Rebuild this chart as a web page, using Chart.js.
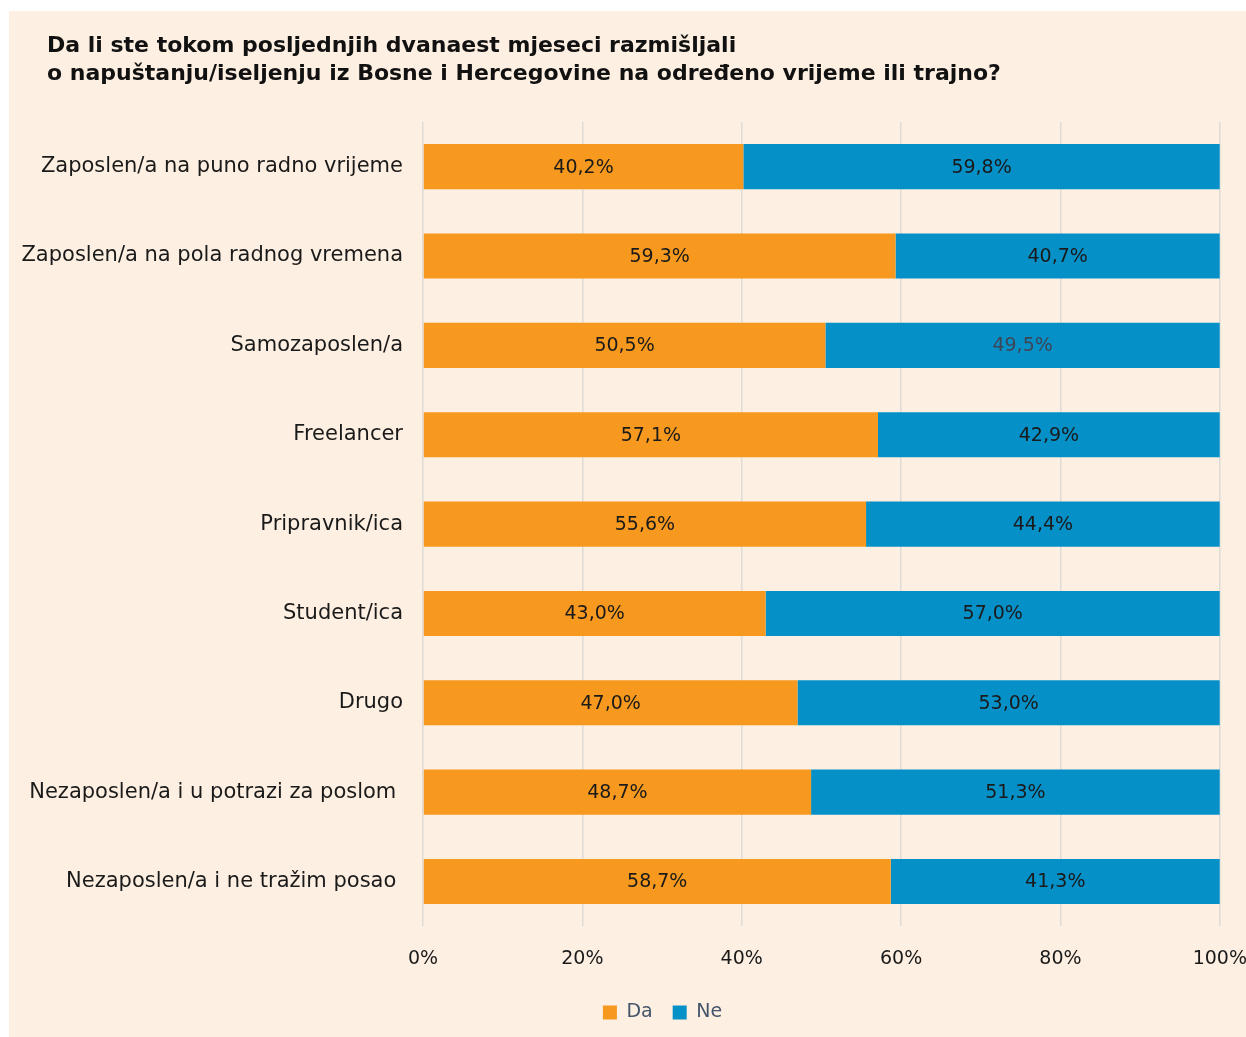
<!DOCTYPE html>
<html lang="bs">
<head>
    <meta charset="UTF-8">
    <title>Razmišljanje o napuštanju BiH</title>
    <style>
        body {
            margin: 0;
            background: #ffffff;
            overflow: hidden;
            font-family: "DejaVu Sans", Arial, sans-serif;
        }
        .panel {
            position: absolute;
            left: 9px;
            top: 11px;
            width: 1237px;
            height: 1026px;
            background: #fdefe1;
        }
        .title {
            position: absolute;
            left: 38px;
            top: 20px;
            font-size: 22px;
            font-weight: 700;
            line-height: 28px;
            color: #111;
        }
        .wrap {
            position: absolute;
            left: 0;
            top: 0;
            width: 1259px;
            height: 1026px;
        }
    </style>
</head>
<body>
    <div class="panel">
        <div class="wrap"><canvas id="chart"></canvas></div>
        <div class="title">Da li ste tokom posljednjih dvanaest mjeseci razmišljali<br>o napuštanju/iseljenju iz Bosne i Hercegovine na određeno vrijeme ili trajno?</div>
    </div>

    <script src="https://cdn.jsdelivr.net/npm/chart.js"></script>
    <script>
        // categories (trailing spaces kept as in the original)
        const categories = [
            'Zaposlen/a na puno radno vrijeme',
            'Zaposlen/a na pola radnog vremena',
            'Samozaposlen/a',
            'Freelancer',
            'Pripravnik/ica',
            'Student/ica',
            'Drugo',
            'Nezaposlen/a i u potrazi za poslom ',
            'Nezaposlen/a i ne tražim posao '
        ];
        const daValues = [40.2, 59.3, 50.5, 57.1, 55.6, 43.0, 47.0, 48.7, 58.7];
        const neValues = [59.8, 40.7, 49.5, 42.9, 44.4, 57.0, 53.0, 51.3, 41.3];
        const xTicks = [0, 20, 40, 60, 80, 100];

        const FONT = '"DejaVu Sans", Arial, sans-serif';

        // value labels inside the bars
        const barLabels = {
            id: 'barLabels',
            afterDatasetsDraw(chart) {
                const ctx = chart.ctx;
                ctx.save();
                ctx.font = '19px ' + FONT;
                ctx.textAlign = 'center';
                ctx.textBaseline = 'middle';
                chart.data.datasets.forEach((ds, i) => {
                    const meta = chart.getDatasetMeta(i);
                    meta.data.forEach((bar, j) => {
                        const v = ds.data[j];
                        ctx.fillStyle = (ds.labelColors && ds.labelColors[j]) || '#1a1a1a';
                        ctx.fillText(v.toFixed(1).replace('.', ',') + '%', (bar.x + bar.base) / 2, bar.y + 1);
                    });
                });
                ctx.restore();
            }
        };

        // legend in the original sits a bit right of the canvas centre
        const legendShift = {
            id: 'legendShift',
            afterLayout(chart) {
                chart.legend.left += 24;
                chart.legend.right += 24;
            }
        };

        new Chart(document.getElementById('chart'), {
            type: 'bar',
            data: {
                labels: categories,
                datasets: [{
                    label: 'Da',
                    data: daValues,
                    backgroundColor: '#f8991f',
                    barPercentage: 1,
                    categoryPercentage: 0.505
                }, {
                    label: 'Ne',
                    data: neValues,
                    backgroundColor: '#0690c8',
                    barPercentage: 1,
                    categoryPercentage: 0.505,
                    labelColors: neValues.map((v, i) => i === 2 ? '#3d4656' : '#1a1a1a')
                }]
            },
            options: {
                indexAxis: 'y',
                responsive: true,
                maintainAspectRatio: false,
                animation: false,
                layout: { padding: { top: 111, left: 0, right: 0, bottom: 5 } },
                scales: {
                    x: {
                        stacked: true,
                        min: 0,
                        max: 100,
                        afterBuildTicks(scale) {
                            scale.ticks = xTicks.map(v => ({ value: v }));
                        },
                        afterFit(scale) { scale.height -= 8; },
                        border: { display: false },
                        grid: { color: '#dedcd8', lineWidth: 1.5, drawTicks: false },
                        ticks: {
                            padding: 21,
                            color: '#1a1a1a',
                            font: { family: FONT, size: 19 },
                            callback: v => v + '%'
                        }
                    },
                    y: {
                        stacked: true,
                        afterFit(scale) { scale.width = 414; },
                        border: { display: false },
                        grid: { display: false, drawTicks: false },
                        ticks: {
                            padding: 20,
                            color: '#1a1a1a',
                            font: { family: FONT, size: 21 }
                        }
                    }
                },
                plugins: {
                    legend: {
                        position: 'bottom',
                        labels: {
                            boxWidth: 14,
                            boxHeight: 14,
                            padding: 20,
                            color: '#44546a',
                            font: { family: FONT, size: 19 }
                        }
                    },
                    tooltip: { enabled: false }
                }
            },
            plugins: [barLabels, legendShift]
        });
    </script>
</body>
</html>
